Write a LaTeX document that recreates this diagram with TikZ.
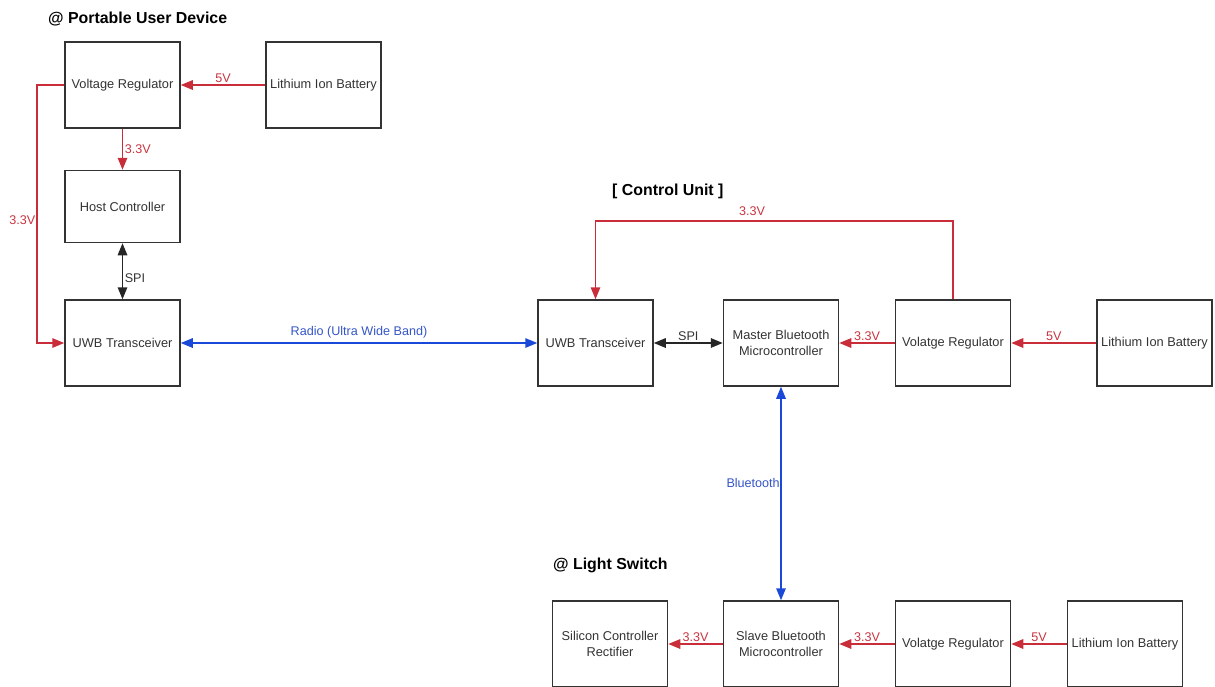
\documentclass[tikz,border=0pt]{standalone}
\usepackage{fontspec}
\setmainfont{Liberation Sans}
\usetikzlibrary{arrows.meta}
\definecolor{lred}{HTML}{C92D39}
\definecolor{lredtxt}{HTML}{C8343F}
\definecolor{lblue}{HTML}{1A48D8}
\definecolor{lbtext}{HTML}{3555C8}
\definecolor{lgray}{HTML}{333333}
\begin{document}
\begin{tikzpicture}[x=1pt,y=-1pt,
  box/.style={draw=lgray,line width=1.5pt,minimum width=115pt,minimum height=86pt,inner sep=0pt,align=center,font=\fontsize{12.8}{16}\selectfont,text=lgray},
  title/.style={anchor=west,font=\bfseries\fontsize{15.9}{18}\selectfont,text=black,inner sep=0pt},
  pw/.style={draw=lred,line width=1.5pt,-{Triangle[length=12pt,width=9.5pt]}},
  sig/.style={draw=black!85,line width=1.5pt,{Triangle[length=12pt,width=9.5pt]}-{Triangle[length=12pt,width=9.5pt]}},
  rf/.style={draw=lblue,line width=1.5pt,{Triangle[length=12pt,width=9.5pt]}-{Triangle[length=12pt,width=9.5pt]}},
  rlbl/.style={text=lredtxt,font=\fontsize{12.6}{15}\selectfont,inner sep=1.5pt},
  klbl/.style={text=lgray,font=\fontsize{12.6}{15}\selectfont,inner sep=1.5pt},
  blbl/.style={text=lbtext,font=\fontsize{12.6}{15}\selectfont,inner sep=1.5pt}
]
\useasboundingbox (0,0) rectangle (1215,686);
\clip (0,0) rectangle (1215,686);

% titles
\node[title] (t1) at (48,19) {@ Portable User Device};
\node[title] (t2) at (612,191) {[ Control Unit ]};
\node[title] (t3) at (553,565) {@ Light Switch};

% Portable user device
\node[box] (vrA) at (122.5,85) {Voltage Regulator};
\node[box] (libA) at (323.5,85) {Lithium Ion Battery};
\node[box,minimum height=72pt] (hc) at (122.5,206.5) {Host Controller};
\node[box] (uwbA) at (122.5,343) {UWB Transceiver};

% Control unit
\node[box] (uwbB) at (595.5,343) {UWB Transceiver};
\node[box] (mbm) at (781,343) {Master Bluetooth\\Microcontroller};
\node[box] (vrB) at (953,343) {Volatge Regulator};
\node[box] (libB) at (1154.5,343) {Lithium Ion Battery};

% Light switch
\node[box] (scr) at (610,644) {Silicon Controller\\Rectifier};
\node[box] (sbm) at (781,644) {Slave Bluetooth\\Microcontroller};
\node[box] (vrC) at (953,644) {Volatge Regulator};
\node[box] (libC) at (1125,644) {Lithium Ion Battery};

% coordinates for routed lines
\coordinate (a1) at (37,85);
\coordinate (a2) at (37,343);
\coordinate (b1) at (953,221);
\coordinate (b2) at (595.5,221);

% PUD connectors
\draw[pw] (libA) -- node[rlbl,above,pos=0.5] {5V} (vrA);
\draw[pw] (vrA) -- node[rlbl,right,pos=0.5] {3.3V} (hc);
\draw[pw] (vrA.west) -- (a1) -- (a2) -- (uwbA.west);
\node[rlbl,left] (l33a) at (37,220) {3.3V};
\draw[sig] (hc) -- node[klbl,right,pos=0.62] {SPI} (uwbA);

% radio link
\draw[rf] (uwbA) -- node[blbl,above=3pt,pos=0.5] {Radio (Ultra Wide Band)} (uwbB);

% CU connectors
\draw[sig] (uwbB) -- node[klbl,above,pos=0.5] {SPI} (mbm);
\draw[pw] (vrB) -- node[rlbl,above,pos=0.5] {3.3V} (mbm);
\draw[pw] (libB) -- node[rlbl,above,pos=0.5] {5V} (vrB);
\draw[pw] (vrB.north) -- (b1) -- (b2) -- (uwbB.north);
\node[rlbl,above=4pt] (l33b) at (752,221) {3.3V};

% Bluetooth link
\draw[rf] (mbm) -- node[blbl,left,inner sep=0.5pt,pos=0.45] {Bluetooth} (sbm);

% LS connectors
\draw[pw] (sbm) -- node[rlbl,above,pos=0.5] {3.3V} (scr);
\draw[pw] (vrC) -- node[rlbl,above,pos=0.5] {3.3V} (sbm);
\draw[pw] (libC) -- node[rlbl,above,pos=0.5] {5V} (vrC);
\end{tikzpicture}
\end{document}
